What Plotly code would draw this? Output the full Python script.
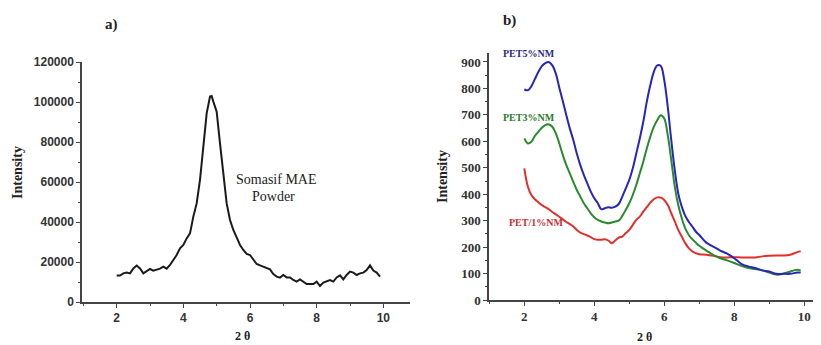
import plotly.graph_objects as go

# page body has an 8px margin, so the figure is drawn 8px in from the top-left of the window
OFF = 8
FW, FH = 821 - OFF, 345 - OFF

# Panel a: Somasif MAE powder
theta_a = [2.0, 2.1, 2.2, 2.3, 2.4, 2.5, 2.6, 2.7, 2.8, 2.9, 3.0, 3.1, 3.2, 3.3, 3.4, 3.5, 3.6, 3.7, 3.8, 3.9,
           4.0, 4.1, 4.2, 4.3, 4.4, 4.5, 4.6, 4.7, 4.8, 4.85, 4.9, 5.0, 5.1, 5.2, 5.3, 5.4, 5.5, 5.6, 5.7, 5.8, 5.9,
           6.0, 6.1, 6.2, 6.3, 6.4, 6.5, 6.6, 6.7, 6.8, 6.9, 7.0, 7.1, 7.2, 7.3, 7.4, 7.5, 7.6, 7.7, 7.8, 7.9,
           8.0, 8.1, 8.2, 8.3, 8.4, 8.5, 8.6, 8.7, 8.8, 8.9, 9.0, 9.1, 9.2, 9.3, 9.4, 9.5, 9.6, 9.7, 9.8, 9.9]
intensity_a = [13300, 13200, 14300, 14700, 14300, 16800, 18200, 16800, 14300, 15200, 16500, 15700, 16300, 16700,
               17700, 16700, 18500, 21000, 23500, 26800, 28500, 31800, 34300, 42700, 49300, 61000, 77700, 94300,
               102700, 103000, 100200, 95200, 79300, 62700, 49300, 41000, 36000, 32300, 28500, 26000, 24000,
               23500, 21000, 19000, 18300, 17700, 16800, 16300, 14000, 12700, 12200, 13500, 12300, 12300, 11000,
               10200, 11300, 10200, 9000, 9000, 9000, 10200, 8000, 9700, 10500, 11000, 10200, 12300, 13300, 11300,
               13500, 15200, 14700, 13500, 14300, 14700, 16000, 18300, 15700, 14700, 12700]

# Panel b: PET nanocomposites
theta_b = [2.0, 2.1, 2.2, 2.3, 2.4, 2.5, 2.6, 2.7, 2.8, 2.9, 3.0, 3.1, 3.2, 3.3, 3.4, 3.5, 3.6, 3.7, 3.8, 3.9,
           4.0, 4.1, 4.2, 4.3, 4.4, 4.5, 4.6, 4.7, 4.8, 4.9, 5.0, 5.1, 5.2, 5.3, 5.4, 5.5, 5.6, 5.7, 5.8, 5.9,
           6.0, 6.1, 6.2, 6.3, 6.4, 6.5, 6.6, 6.7, 6.8, 6.9, 7.0, 7.2, 7.4, 7.6, 7.8, 8.0, 8.2, 8.4, 8.6, 8.8,
           9.0, 9.2, 9.4, 9.6, 9.8, 9.9]
pet5 = [796, 793, 808, 835, 862, 884, 896, 900, 887, 856, 803, 752, 699, 649, 605, 554, 510, 473, 441, 410,
        385, 366, 343, 347, 351, 349, 353, 363, 391, 422, 454, 498, 554, 611, 674, 749, 812, 862, 887, 885,
        831, 730, 605, 491, 403, 353, 318, 296, 278, 259, 246, 217, 202, 187, 175, 158, 137, 127, 121, 112,
        108, 99, 99, 99, 104, 104]
pet3 = [611, 592, 598, 620, 636, 651, 661, 664, 655, 630, 592, 548, 510, 479, 447, 416, 391, 366, 347, 328,
        313, 303, 297, 293, 290, 293, 297, 300, 318, 341, 366, 397, 435, 479, 523, 573, 617, 655, 680, 699,
        686, 623, 529, 429, 359, 309, 271, 246, 230, 217, 205, 187, 171, 158, 150, 140, 129, 121, 117, 112,
        104, 96, 99, 108, 114, 112]
pet1 = [498, 429, 397, 381, 370, 359, 351, 343, 333, 324, 315, 305, 295, 287, 278, 265, 255, 249, 244, 238,
        230, 228, 228, 230, 225, 215, 225, 236, 240, 253, 265, 284, 303, 315, 334, 351, 368, 381, 388, 387,
        378, 359, 328, 297, 265, 240, 215, 196, 184, 177, 173, 171, 167, 162, 161, 162, 161, 161, 161, 165,
        167, 168, 168, 171, 181, 184]

ticks_x = [2, 4, 6, 8, 10]
yticks_a = [0, 20000, 40000, 60000, 80000, 100000, 120000]
yticks_b = [0, 100, 200, 300, 400, 500, 600, 700, 800, 900]


def fx(x):  # window pixel -> paper fraction
    return (x - OFF) / FW


def fy(y):
    return 1 - (y - OFF) / FH


fig = go.Figure()
fig.add_trace(go.Scatter(x=theta_a, y=intensity_a, mode="lines", line=dict(color="#1a1a1a", width=2),
                         xaxis="x", yaxis="y", showlegend=False))
fig.add_trace(go.Scatter(x=theta_b, y=pet1, mode="lines", line=dict(color="#e0302c", width=2, shape="spline"),
                         xaxis="x2", yaxis="y2", showlegend=False))
fig.add_trace(go.Scatter(x=theta_b, y=pet3, mode="lines", line=dict(color="#2a8a2e", width=2, shape="spline"),
                         xaxis="x2", yaxis="y2", showlegend=False))
fig.add_trace(go.Scatter(x=theta_b, y=pet5, mode="lines", line=dict(color="#2626b8", width=2, shape="spline"),
                         xaxis="x2", yaxis="y2", showlegend=False))

sans_bold = dict(family="Liberation Sans", size=12, color="#333333")
serif_bold = dict(family="Liberation Serif", size=13, color="#333333")


def bold(vals):
    return [f"<b>{v}</b>" for v in vals]


common = dict(showgrid=False, zeroline=False, showline=True, linecolor="#444444", linewidth=1.5,
              ticks="outside", ticklen=4, tickwidth=1.2, tickcolor="#444444", automargin=False)
minor_x = dict(dtick=1, tick0=1, ticks="outside", ticklen=2, tickcolor="#444444")

fig.update_layout(
    width=FW, height=FH, margin=dict(l=0, r=0, t=0, b=0),
    paper_bgcolor="white", plot_bgcolor="white",
    xaxis=dict(domain=[fx(82), fx(410)], range=[0.96, 10.8], anchor="y", tickvals=ticks_x,
               ticktext=bold(ticks_x), tickfont=sans_bold, minor=minor_x, **common),
    yaxis=dict(domain=[fy(302), fy(62)], range=[0, 120000], anchor="x", tickvals=yticks_a,
               ticktext=bold(yticks_a), tickfont=sans_bold,
               minor=dict(dtick=10000, ticks="outside", ticklen=2, tickcolor="#444444"), **common),
    xaxis2=dict(domain=[fx(489), 1.0], range=[0.99, 10.48], anchor="y2", tickvals=ticks_x,
                ticktext=bold(ticks_x), tickfont=serif_bold, minor=minor_x, **common),
    yaxis2=dict(domain=[fy(300), fy(53)], range=[0, 934], anchor="x2", tickvals=yticks_b,
                ticktext=bold(yticks_b), tickfont=serif_bold,
                minor=dict(dtick=50, ticks="outside", ticklen=2, tickcolor="#444444"), **common),
)


def ann(text, x, y, size, color="#222222", bold=True, angle=0, family="Liberation Serif", xanchor="center"):
    t = f"<b>{text}</b>" if bold else text
    fig.add_annotation(text=t, x=fx(x), y=fy(y), xref="paper", yref="paper", showarrow=False,
                       font=dict(family=family, size=size, color=color), textangle=angle,
                       xanchor=xanchor, yanchor="middle")


ann("a)", 111, 25, 15)
ann("b)", 510, 20, 15)
ann("Intensity", 18, 173, 14, angle=-90)
ann("Intensity", 442, 177, 14, angle=-90)
ann("2 θ", 242, 336, 12)
ann("2 θ", 644, 337, 12)
ann("Somasif MAE", 276, 179, 14, bold=False)
ann("Powder", 273, 196, 14, bold=False)
ann("PET5%NM", 501, 53, 10, color="#2a2a8a", xanchor="left")
ann("PET3%NM", 501, 118, 10, color="#2a7a2e", xanchor="left")
ann("PET/1%NM", 507, 222, 10, color="#c83030", xanchor="left")

fig.write_html("out.html")
